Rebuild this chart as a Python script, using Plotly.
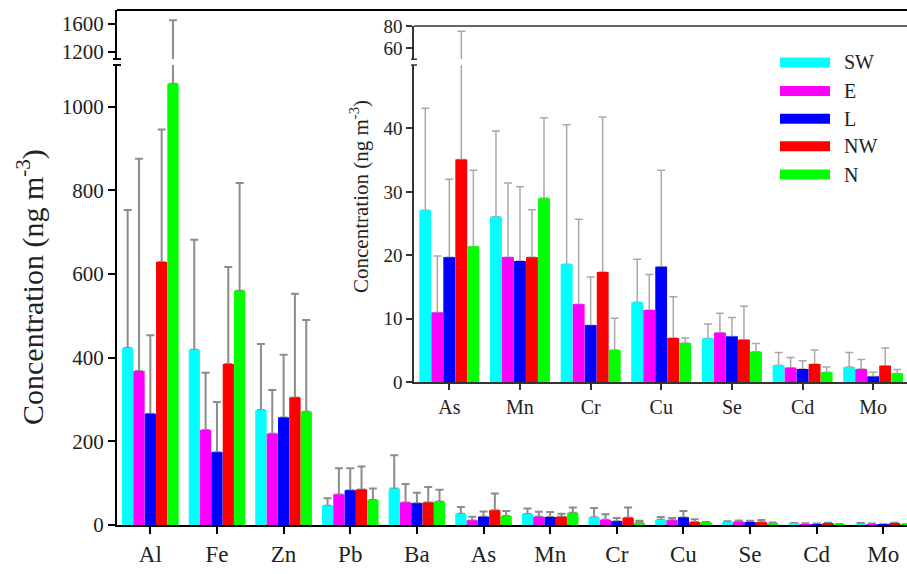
import plotly.graph_objects as go

# ---------------- data ----------------
elements_main = ["Al", "Fe", "Zn", "Pb", "Ba", "As", "Mn", "Cr", "Cu", "Se", "Cd", "Mo"]
elements_inset = ["As", "Mn", "Cr", "Cu", "Se", "Cd", "Mo"]
series = ["SW", "E", "L", "NW", "N"]
colors = ["#00FFFF", "#FF00FF", "#0000FF", "#FF0000", "#00FF00"]

# mean concentrations (ng m-3)
SW = [423, 419, 275, 46, 87, 27.1, 26.1, 18.6, 12.6, 6.9, 2.7, 2.4]
E = [368, 227, 218, 73, 54, 11.0, 19.7, 12.3, 11.4, 7.8, 2.3, 2.1]
L = [266, 174, 257, 83, 52, 19.7, 19.1, 9.0, 18.2, 7.2, 2.1, 0.9]
NW = [629, 385, 305, 85, 54, 35.1, 19.7, 17.4, 7.0, 6.7, 2.9, 2.6]
N = [1055, 560, 271, 60, 56, 21.4, 29.0, 5.1, 6.2, 4.8, 1.6, 1.4]

# top of the error bar (mean + SD)
SW_hi = [753, 682, 433, 64, 167, 43.2, 39.6, 40.6, 19.4, 9.2, 4.7, 4.7]
E_hi = [876, 364, 323, 136, 98, 19.9, 31.4, 25.7, 17.0, 10.9, 3.9, 3.6]
L_hi = [454, 294, 407, 136, 77, 32.0, 30.8, 16.6, 33.4, 10.2, 3.4, 1.6]
NW_hi = [946, 617, 553, 140, 91, 75.2, 27.2, 41.8, 13.5, 12.0, 5.1, 5.4]
N_hi = [1653, 818, 490, 87, 84, 33.4, 41.7, 10.1, 7.0, 6.1, 2.4, 2.0]

means = [SW, E, L, NW, N]
highs = [SW_hi, E_hi, L_hi, NW_hi, N_hi]

main_ticks_low = [0, 200, 400, 600, 800, 1000]
main_ticks_high = [1200, 1600]
inset_ticks_low = [0, 10, 20, 30, 40]
inset_ticks_high = [60, 80]

# ---------------- styling ----------------
FONT = "Liberation Serif"
TXT = "#222222"
W, H = 907, 574
ML, MR, MT, MB = 117, 0, 10, 49
PW, PH = W - ML - MR, H - MT - MB


def px_x(p):
    return (p - ML) / PW


def px_y(p):
    return (H - MB - p) / PH


fig = go.Figure()


def add_bars(xa, ya, cats, sl, err_style, with_err=True):
    for name, col, m, h in zip(series, colors, means, highs):
        vals = m[sl]
        up = [hh - mm for hh, mm in zip(h[sl], vals)]
        kw = {}
        if with_err:
            kw["error_y"] = dict(type="data", symmetric=False, array=up,
                                 arrayminus=[0] * len(vals), **err_style)
        fig.add_trace(go.Bar(x=cats, y=vals, name=name, marker_color=col,
                             marker_line_width=0, xaxis=xa, yaxis=ya,
                             showlegend=False, hoverinfo="skip", **kw))


main_err = dict(color="#8c8c8c", thickness=2, width=4)
inset_err = dict(color="#a8a8a8", thickness=1.5, width=4)

sl_main = slice(0, 12)
sl_inset = slice(5, 12)

# main chart lower / upper segments
add_bars("x", "y", elements_main, sl_main, main_err)
add_bars("x2", "y2", elements_main, sl_main, main_err)
# inset lower / upper segments
add_bars("x3", "y3", elements_inset, sl_inset, inset_err)
add_bars("x4", "y4", elements_inset, sl_inset, inset_err)
# overlays (bars redrawn above to hide the lower error-bar caps)
add_bars("x5", "y5", elements_main, sl_main, main_err, with_err=False)
add_bars("x6", "y6", elements_inset, sl_inset, inset_err, with_err=False)

main_range_x = [-0.5, 11.355]
inset_range_x = [-0.5, 6.478]
inset_dom_x = [px_x(414), 1]

low_top = px_y(65)
main_up_bot = px_y(59)
inset_up_bot = px_y(59.3)
inset_top = px_y(26)
inset_bot = px_y(382.3)

axis_common = dict(showgrid=False, zeroline=False, fixedrange=True)

fig.update_layout(
    width=W, height=H,
    margin=dict(l=ML, r=MR, t=MT, b=MB),
    plot_bgcolor="white", paper_bgcolor="white",
    barmode="group", bargap=0.15, bargroupgap=0.04,
    font=dict(family=FONT, color=TXT),
    xaxis=dict(domain=[0, 1], range=main_range_x, anchor="y", type="category",
               showline=True, linecolor="black", linewidth=2,
               ticks="outside", ticklen=7, tickwidth=2, tickcolor="black",
               tickfont=dict(size=23, family=FONT, color=TXT), **axis_common),
    yaxis=dict(domain=[0, low_top], range=[0, 1100], anchor="x",
               tickvals=main_ticks_low, showline=True, linecolor="black", linewidth=2,
               ticks="outside", ticklen=7, tickwidth=2, tickcolor="black",
               tickfont=dict(size=21, family=FONT, color=TXT), **axis_common),
    xaxis2=dict(domain=[0, 1], range=main_range_x, anchor="y2", type="category",
                showline=False, showticklabels=False, ticks="", **axis_common),
    yaxis2=dict(domain=[main_up_bot, 1], range=[1100, 1800], anchor="x2",
                tickvals=main_ticks_high, showline=True, linecolor="black", linewidth=2,
                ticks="outside", ticklen=7, tickwidth=2, tickcolor="black",
                tickfont=dict(size=21, family=FONT, color=TXT), **axis_common),
    xaxis3=dict(domain=inset_dom_x, range=inset_range_x, anchor="y3", type="category",
                showline=True, linecolor="#333333", linewidth=1.5,
                ticks="outside", ticklen=6, tickwidth=1.5, tickcolor="#333333",
                tickfont=dict(size=20, family=FONT, color=TXT), **axis_common),
    yaxis3=dict(domain=[inset_bot, low_top], range=[0, 50], anchor="x3",
                tickvals=inset_ticks_low, showline=True, linecolor="#333333", linewidth=1.5,
                ticks="outside", ticklen=6, tickwidth=1.5, tickcolor="#333333",
                tickfont=dict(size=19, family=FONT, color=TXT), **axis_common),
    xaxis4=dict(domain=inset_dom_x, range=inset_range_x, anchor="y4", type="category",
                showline=False, showticklabels=False, ticks="", **axis_common),
    yaxis4=dict(domain=[inset_up_bot, inset_top], range=[50, 80], anchor="x4",
                tickvals=inset_ticks_high, showline=True, linecolor="#333333", linewidth=1.5,
                ticks="outside", ticklen=6, tickwidth=1.5, tickcolor="#333333",
                tickfont=dict(size=19, family=FONT, color=TXT), **axis_common),
    xaxis5=dict(overlaying="x", range=main_range_x, anchor="y5", type="category",
                visible=False, **axis_common),
    yaxis5=dict(overlaying="y", range=[0, 1100], anchor="x5", visible=False, **axis_common),
    xaxis6=dict(overlaying="x3", range=inset_range_x, anchor="y6", type="category",
                visible=False, **axis_common),
    yaxis6=dict(overlaying="y3", range=[0, 50], anchor="x6", visible=False, **axis_common),
)

shapes = []
# frame top lines
shapes.append(dict(type="line", xref="paper", yref="paper", x0=0, x1=1.01, y0=1, y1=1,
                   line=dict(color="black", width=2)))
shapes.append(dict(type="line", xref="paper", yref="paper", x0=inset_dom_x[0], x1=1.01,
                   y0=inset_top, y1=inset_top, line=dict(color="#333333", width=1.5)))
# axis-break markers
for yy in (main_up_bot, low_top):
    shapes.append(dict(type="line", xref="paper", yref="paper",
                       x0=px_x(113), x1=px_x(121), y0=yy, y1=yy,
                       line=dict(color="black", width=2)))
for yy in (inset_up_bot, low_top):
    shapes.append(dict(type="line", xref="paper", yref="paper",
                       x0=px_x(411), x1=px_x(417), y0=yy, y1=yy,
                       line=dict(color="#333333", width=1.5)))

annotations = []
# custom legend
leg_rows = [62.5, 91, 118.7, 146.3, 174.5]
for name, col, yc in zip(series, colors, leg_rows):
    shapes.append(dict(type="rect", xref="paper", yref="paper",
                       x0=px_x(780), x1=px_x(830), y0=px_y(yc + 5), y1=px_y(yc - 5),
                       fillcolor=col, line=dict(width=0)))
    annotations.append(dict(xref="paper", yref="paper", x=px_x(842), y=px_y(yc),
                            text=name, showarrow=False, xanchor="left", yanchor="middle",
                            font=dict(size=20, family=FONT, color=TXT)))

# axis titles
annotations.append(dict(xref="paper", yref="paper", x=px_x(31), y=px_y(287),
                        text="Concentration (ng m<sup>-3</sup>)", textangle=-90,
                        showarrow=False, xanchor="center", yanchor="middle",
                        font=dict(size=30, family=FONT, color=TXT)))
annotations.append(dict(xref="paper", yref="paper", x=px_x(359), y=px_y(197),
                        text="Concentration (ng m<sup>-3</sup>)", textangle=-90,
                        showarrow=False, xanchor="center", yanchor="middle",
                        font=dict(size=21, family=FONT, color=TXT)))

fig.update_layout(shapes=shapes, annotations=annotations)

fig.write_html("out.html")
